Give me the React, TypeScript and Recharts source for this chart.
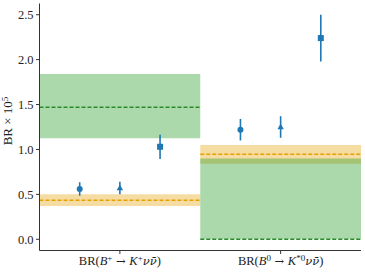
import React from 'react';
import {
  ComposedChart,
  XAxis,
  YAxis,
  Scatter,
  ErrorBar,
  ReferenceArea,
  ReferenceLine,
} from 'recharts';

// ---- data ----
type Seg = { t: string; i?: boolean; sup?: boolean; sym?: boolean };
const categoryPositions = [0, 1];
const categoryLabels: Seg[][] = [
  [{ t: 'BR(' }, { t: 'B', i: true }, { t: '+', sup: true }, { t: ' → ', sym: true }, { t: 'K', i: true }, { t: '+', sup: true }, { t: 'νν̄', i: true, sym: true }, { t: ')' }],
  [{ t: 'BR(' }, { t: 'B', i: true }, { t: '0', sup: true }, { t: ' → ', sym: true }, { t: 'K', i: true }, { t: '*0', sup: true }, { t: 'νν̄', i: true, sym: true }, { t: ')' }],
];
const markerOffsets = [-0.25, 0, 0.25];
const circleVals = [0.56, 1.22];
const circleErrs = [0.075, 0.12];
const triangleVals = [0.57, 1.25];
const triangleErrs = [0.07, 0.12];
const squareVals = [1.03, 2.24];
const squareErrs = [0.135, 0.26];
const greenLow = [1.125, 0.0];
const greenHigh = [1.84, 0.9];
const greenCentral = [1.47, 0.0];
const orangeLow = [0.37, 0.84];
const orangeHigh = [0.5, 1.05];
const orangeCentral = [0.434, 0.946];
const yTicks = [0, 0.5, 1, 1.5, 2, 2.5];
const yDomain = [-0.125, 2.625];
const xDomain = [-0.5, 1.5];

const BLUE = '#1f77b4';
const FONT = '"Liberation Serif", serif';
const SYMFONT = '"DejaVu Serif", serif';

const mk = (vals: number[], errs: number[], off: number) =>
  vals.map((v, i) => ({ x: categoryPositions[i] + off, y: v, err: errs[i] }));
const circleData = mk(circleVals, circleErrs, markerOffsets[0]);
const triangleData = mk(triangleVals, triangleErrs, markerOffsets[1]);
const squareData = mk(squareVals, squareErrs, markerOffsets[2]);

const CircleShape = (p: any) => <circle cx={p.cx} cy={p.cy} r={3} fill={BLUE} />;
const SquareShape = (p: any) => (
  <rect x={p.cx - 3} y={p.cy - 3} width={6} height={6} fill={BLUE} />
);
const TriShape = (p: any) => (
  <path d={`M${p.cx},${p.cy - 3.6} L${p.cx + 3.2},${p.cy + 2.2} L${p.cx - 3.2},${p.cy + 2.2} Z`} fill={BLUE} />
);

const XTick = (props: any) => {
  const { x, y, payload } = props;
  const idx = categoryPositions.indexOf(payload.value);
  const segs = categoryLabels[idx] || [];
  const out: any[] = [];
  let raised = false;
  segs.forEach((s, k) => {
    let dy = 0;
    if (s.sup && !raised) { dy = -4.5; raised = true; }
    else if (!s.sup && raised) { dy = 4.5; raised = false; }
    out.push(
      <tspan
        key={k}
        dy={dy}
        fontStyle={s.i ? 'italic' : 'normal'}
        fontFamily={s.sym ? SYMFONT : FONT}
        fontSize={s.sup ? 9 : s.sym ? 11.5 : 12.5}
      >
        {s.t}
      </tspan>
    );
  });
  return (
    <text x={x} y={y + 9} textAnchor="middle" fontFamily={FONT} fontSize={12.5} fill="#222">
      {out}
    </text>
  );
};

const YLabel = () => (
  <text transform="translate(12,121) rotate(-90)" textAnchor="middle" fontFamily={FONT} fontSize={13} fill="#222">
    BR × 10<tspan dy={-4.5} fontSize={9}>5</tspan>
  </text>
);

export default function App() {
  return (
    <div style={{ position: 'absolute', left: 0, top: 0 }}>
      <ComposedChart width={365} height={274} margin={{ top: 3.5, right: 4, left: 0, bottom: 0 }}>
        <XAxis
          dataKey="x"
          type="number"
          domain={xDomain}
          ticks={categoryPositions}
          allowDataOverflow
          height={23.5}
          tick={<XTick />}
          tickSize={3.5}
          tickMargin={2}
          stroke="#333"
          tickLine={{ stroke: '#333' }}
        />
        <XAxis xAxisId="top" orientation="top" type="number" domain={xDomain} height={0} tick={false} tickLine={false} stroke="#333" />
        <YAxis
          type="number"
          domain={yDomain}
          ticks={yTicks}
          allowDataOverflow
          width={39.5}
          tickSize={3.5}
          tickMargin={2.5}
          stroke="#333"
          tickFormatter={(v: number) => v.toFixed(1)}
          tick={{ fontFamily: FONT, fontSize: 12.5, fill: '#222' }}
          label={{ content: <YLabel /> }}
        />
        <YAxis yAxisId="right" orientation="right" type="number" domain={yDomain} width={0} tick={false} tickLine={false} stroke="#333" />

        {categoryPositions.map((c, i) => (
          <ReferenceArea key={'o' + i} x1={c - 0.5} x2={c + 0.5} y1={orangeLow[i]} y2={orangeHigh[i]} fill="#e6a817" fillOpacity={0.4} stroke="none" />
        ))}
        {categoryPositions.map((c, i) => (
          <ReferenceArea key={'g' + i} x1={c - 0.5} x2={c + 0.5} y1={greenLow[i]} y2={greenHigh[i]} fill="#2ca02c" fillOpacity={0.4} stroke="none" />
        ))}
        {categoryPositions.map((c, i) => (
          <ReferenceLine key={'ol' + i} segment={[{ x: c - 0.5, y: orangeCentral[i] }, { x: c + 0.5, y: orangeCentral[i] }]} stroke="#e6a000" strokeWidth={1.5} strokeDasharray="4 2" />
        ))}
        {categoryPositions.map((c, i) => (
          <ReferenceLine key={'gl' + i} segment={[{ x: c - 0.5, y: greenCentral[i] }, { x: c + 0.5, y: greenCentral[i] }]} stroke="#2a8a2a" strokeWidth={1.5} strokeDasharray="4 2" />
        ))}

        <Scatter data={circleData} dataKey="y" shape={<CircleShape />} isAnimationActive={false}>
          <ErrorBar dataKey="err" direction="y" width={0} stroke={BLUE} strokeWidth={1.6} isAnimationActive={false} />
        </Scatter>
        <Scatter data={triangleData} dataKey="y" shape={<TriShape />} isAnimationActive={false}>
          <ErrorBar dataKey="err" direction="y" width={0} stroke={BLUE} strokeWidth={1.6} isAnimationActive={false} />
        </Scatter>
        <Scatter data={squareData} dataKey="y" shape={<SquareShape />} isAnimationActive={false}>
          <ErrorBar dataKey="err" direction="y" width={0} stroke={BLUE} strokeWidth={1.6} isAnimationActive={false} />
        </Scatter>
      </ComposedChart>
    </div>
  );
}
